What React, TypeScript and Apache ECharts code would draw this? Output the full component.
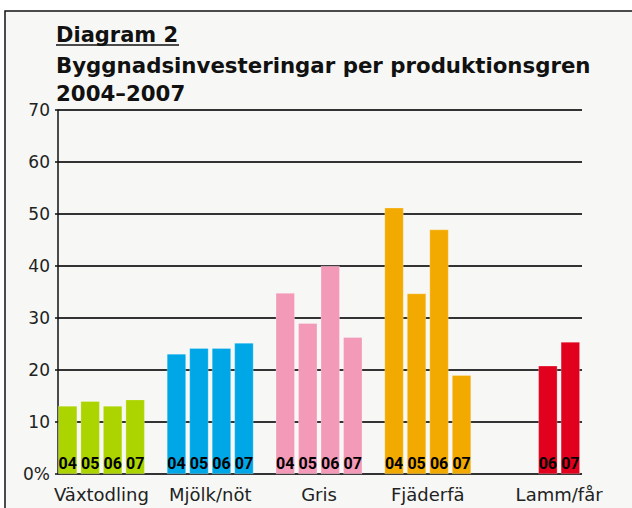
import React, { useEffect, useRef } from "react";
import * as echarts from "echarts";

const categories = ["Växtodling", "Mjölk/nöt", "Gris", "Fjäderfä", "Lamm/får"];
const seriesNames = ["04", "05", "06", "07"];
const values04 = [13.1, 23.1, 34.8, 51.2, null];
const values05 = [14.0, 24.2, 29.0, 34.7, null];
const values06 = [13.1, 24.2, 40.0, 47.0, 20.8];
const values07 = [14.3, 25.2, 26.3, 19.0, 25.4];
const groupColors = ["#acd400", "#00a7e6", "#f49ab9", "#f2aa00", "#e2001f"];
const yTicks = [0, 10, 20, 30, 40, 50, 60, 70];

const allValues = [values04, values05, values06, values07];

const BAR_W = 19;
const BAR_GAP = 3.5;
const PITCH = BAR_W + BAR_GAP;

export default function App() {
  const ref = useRef<HTMLDivElement>(null);
  useEffect(() => {
    if (!ref.current) return;
    const chart = echarts.init(ref.current, undefined, { renderer: "svg" });
    const font = "DejaVu Sans";
    const rich: Record<string, any> = {};
    categories.forEach((_, i) => {
      const present = allValues
        .map((arr, k) => (arr[i] == null ? -1 : k))
        .filter((k) => k >= 0);
      const mean = present.reduce((a, b) => a + b, 0) / present.length;
      const shift = (mean - 1.5) * PITCH;
      rich["c" + i] = {
        fontSize: 18,
        fontFamily: font,
        color: "#222",
        padding: shift >= 0 ? [0, 0, 0, 2 * shift] : [0, -2 * shift, 0, 0],
      };
    });
    const series = allValues.map((arr, k) => ({
      type: "bar",
      name: seriesNames[k],
      xAxisIndex: 1,
      yAxisIndex: 1,
      data: arr,
      barWidth: BAR_W,
      barGap: (BAR_GAP / BAR_W) * 100 + "%",
      itemStyle: {
        color: (p: any) => groupColors[p.dataIndex],
        borderColor: "rgba(255,255,255,0.5)",
        borderWidth: 0.5,
      },
      label: {
        show: true,
        position: "insideBottom",
        distance: 3,
        formatter: seriesNames[k],
        fontSize: 16,
        fontWeight: "bold",
        fontFamily: "Roboto",
        color: "#000",
      },
      z: 3,
    }));
    chart.setOption({
      animation: false,
      graphic: [
        {
          type: "rect",
          z: -10,
          shape: { x: 5, y: 11, width: 700, height: 600 },
          style: { fill: "#f7f8f6", stroke: "#111", lineWidth: 1.5 },
        },
        {
          type: "line",
          z: 10,
          shape: { x1: 56, y1: 45, x2: 179, y2: 45 },
          style: { stroke: "#111", lineWidth: 1.5 },
        },
      ],
      title: [
        {
          text: "Diagram 2",
          left: 51,
          top: 19,
          textStyle: { fontSize: 21, fontWeight: "bold", fontFamily: font, color: "#111" },
        },
        {
          text: "Byggnadsinvesteringar per produktionsgren\n2004–2007",
          left: 51,
          top: 46,
          textStyle: {
            fontSize: 21.3,
            lineHeight: 28,
            fontWeight: "bold",
            fontFamily: font,
            color: "#111",
          },
        },
      ],
      grid: [
        { left: 58, right: 50, top: 110, bottom: 34 },
        { left: 47, width: 544, top: 110, bottom: 34 },
      ],
      xAxis: [
        {
          type: "category",
          gridIndex: 0,
          data: categories,
          show: false,
        },
        {
          type: "category",
          gridIndex: 1,
          data: categories,
          axisLine: { show: false },
          axisTick: { show: false },
          axisLabel: {
            margin: 11,
            formatter: (v: string) => `{c${categories.indexOf(v)}|${v}}`,
            rich,
          },
        },
      ],
      yAxis: [
        {
          type: "value",
          gridIndex: 0,
          min: yTicks[0],
          max: yTicks[yTicks.length - 1],
          interval: 10,
          axisLine: { show: true, lineStyle: { color: "#111", width: 1.5 } },
          axisTick: { show: true, length: 3, lineStyle: { color: "#111", width: 1.5 } },
          splitLine: { show: true, lineStyle: { color: "#333", width: 2 } },
          axisLabel: {
            fontSize: 17,
            fontFamily: font,
            color: "#222",
            margin: 8,
            formatter: (v: number) => (v === 0 ? "0%" : String(v)),
          },
        },
        {
          type: "value",
          gridIndex: 1,
          min: yTicks[0],
          max: yTicks[yTicks.length - 1],
          show: false,
          splitLine: { show: false },
        },
      ],
      series,
    });
    return () => chart.dispose();
  }, []);
  return (
    <div
      ref={ref}
      style={{ position: "absolute", left: 0, top: 0, width: 632, height: 508 }}
    />
  );
}
